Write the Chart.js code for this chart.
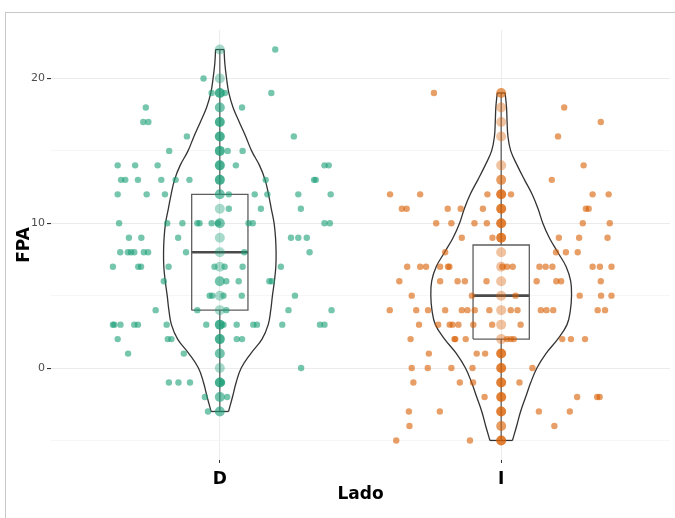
<!DOCTYPE html>
<html>
<head>
<meta charset="utf-8">
<script src="https://cdn.jsdelivr.net/npm/chart.js@4.4.1/dist/chart.umd.min.js"></script>
<style>
  html, body { margin: 0; padding: 0; background: #fff; }
  #wrap { position: relative; width: 675px; height: 518px; overflow: hidden; }
  #frame { position: absolute; left: 5px; top: 12px; width: 720px; height: 600px; border: 1px solid #c8c8c8; }
  canvas { position: absolute; left: 0; top: 0; }
</style>
</head>
<body>
<div id="wrap"><div id="frame"></div><canvas id="chart" width="675" height="518"></canvas></div>
<script>
// categories and axis ticks
const categories = ['D', 'I'];
const yTicks = [-5, 0, 5, 10, 15, 20];
const yTickLabels = ['', '0', '', '10', '', '20'];

// box stats per category (D, I)
const boxMin = [-3, -5];
const boxQ1 = [4, 2];
const boxMedian = [8, 5];
const boxQ3 = [12, 8.5];
const boxMax = [22, 19];

// violin half widths (x units) at each FPA value
const dViolinY = [-3, -2, -1, 0, 1, 2, 3, 4, 5, 6, 7, 8, 9, 10, 11, 12, 13, 14, 15, 16, 17, 18, 19, 20, 21, 22];
const dViolinHalf = [0.031, 0.045, 0.058, 0.076, 0.110, 0.150, 0.172, 0.181, 0.187, 0.194, 0.199, 0.200, 0.198, 0.193, 0.183, 0.173, 0.161, 0.141, 0.113, 0.092, 0.069, 0.047, 0.032, 0.024, 0.018, 0.015];
const iViolinY = [-5, -4, -3, -2, -1, 0, 1, 2, 3, 4, 5, 6, 7, 8, 9, 10, 11, 12, 13, 14, 15, 16, 17, 18, 19];
const iViolinHalf = [0.040, 0.055, 0.069, 0.087, 0.105, 0.127, 0.159, 0.201, 0.234, 0.246, 0.250, 0.247, 0.231, 0.201, 0.171, 0.148, 0.131, 0.110, 0.083, 0.057, 0.034, 0.024, 0.021, 0.019, 0.014];

// jittered observations: FPA level and horizontal offsets at that level
const dJitterLevels = [22, 20, 19, 18, 17, 16, 15, 14, 13, 12, 11, 10, 9, 8, 7, 6, 5, 4, 3, 2, 1, 0, -1, -2, -3];
const dJitterOffsets = [
  [0.197], [-0.058], [-0.029, 0.018, 0.183], [-0.263, 0.079], [-0.272, -0.254],
  [-0.117, 0.263], [-0.180, 0.028, 0.081],
  [-0.363, -0.301, -0.221, 0.057, 0.372, 0.387],
  [-0.351, -0.336, -0.291, -0.208, -0.157, -0.108, 0.163, 0.335, 0.341],
  [-0.363, -0.260, -0.195, 0.032, 0.124, 0.169, 0.279, 0.394],
  [0.032, 0.146, 0.288],
  [-0.358, -0.187, -0.133, -0.080, -0.072, -0.029, -0.007, 0.102, 0.117, 0.372, 0.391],
  [-0.323, -0.279, -0.148, 0.253, 0.279, 0.309],
  [-0.354, -0.327, -0.316, -0.304, -0.270, -0.255, -0.120, 0.087, 0.319],
  [-0.380, -0.290, -0.280, -0.182, -0.019, 0.017, 0.081, 0.217],
  [-0.199, 0.023, 0.067, 0.176, 0.185],
  [-0.036, -0.027, 0.013, 0.078, 0.267],
  [-0.228, -0.080, 0.023, 0.244, 0.397],
  [-0.380, -0.375, -0.353, -0.304, -0.291, -0.189, -0.048, 0.013, 0.060, 0.119, 0.132, 0.222, 0.356, 0.372],
  [-0.363, -0.185, -0.172, 0.060, 0.079],
  [-0.326, -0.128], [0.289], [-0.181, -0.147, -0.106, 0.008], [-0.053, 0.026], [-0.042]
];
const iJitterLevels = [19, 18, 17, 16, 14, 13, 12, 11, 10, 9, 8, 7, 6, 5, 4, 3, 2, 1, 0, -1, -2, -3, -4, -5];
const iJitterOffsets = [
  [-0.239], [0.224], [0.354], [0.202], [0.293], [0.180],
  [-0.395, -0.288, -0.049, 0.035, 0.325, 0.382],
  [-0.353, -0.336, -0.190, -0.144, -0.065, 0.301, 0.311],
  [-0.231, -0.177, -0.095, -0.051, 0.290, 0.386],
  [-0.140, -0.031, 0.205, 0.277, 0.378],
  [-0.199, 0.195, 0.230, 0.272],
  [-0.334, -0.288, -0.267, -0.217, -0.189, -0.184, 0.004, 0.021, 0.041, 0.136, 0.158, 0.182, 0.325, 0.351, 0.392],
  [-0.362, -0.217, -0.155, -0.129, -0.052, 0.126, 0.196, 0.213, 0.354],
  [-0.318, -0.104, 0.051, 0.279, 0.355, 0.392],
  [-0.396, -0.302, -0.260, -0.199, -0.140, -0.120, -0.094, -0.042, 0.034, 0.058, 0.141, 0.161, 0.185, 0.343, 0.369],
  [-0.292, -0.224, -0.183, -0.173, -0.152, -0.099, -0.032, 0.069],
  [-0.322, -0.166, -0.163, -0.126, 0.020, 0.034, 0.045, 0.217, 0.248, 0.298],
  [-0.257, -0.087, -0.057],
  [-0.318, -0.261, -0.177, -0.102, 0.111],
  [-0.312, -0.147, -0.100, 0.065],
  [-0.059, 0.270, 0.341, 0.350],
  [-0.328, -0.218, 0.134, 0.244],
  [-0.326, 0.189],
  [-0.373, -0.111]
];

// un-jittered points on the centre line, with how many overlap at each level
const dCenterY = [22, 20, 19, 18, 17, 16, 15, 14, 13, 12, 11, 10, 9, 8, 7, 6, 5, 4, 3, 2, 1, 0, -1, -2, -3];
const dCenterN = [1, 1, 3, 2, 3, 3, 3, 3, 3, 2, 1, 2, 1, 1, 1, 2, 1, 1, 3, 3, 2, 1, 3, 2, 2];
const iCenterY = [19, 18, 17, 16, 14, 13, 12, 11, 10, 9, 8, 7, 6, 5, 4, 3, 2, 1, 0, -1, -2, -3, -4, -5];
const iCenterN = [2, 1, 1, 1, 1, 2, 3, 3, 3, 3, 1, 1, 1, 1, 1, 1, 1, 3, 3, 3, 3, 3, 2, 3];

const FONT = 'DejaVu Sans, Verdana, sans-serif';
const groupRGB = ['27,158,119', '217,95,2'];
const overlapAlpha = [0, 0.38, 0.62, 0.8];
const BOX_HALF = 0.1;

function jitterPoints(center, levels, offsets) {
  const pts = [];
  levels.forEach((v, i) => offsets[i].forEach(o => pts.push({ x: center + o, y: v })));
  return pts;
}

function lineSet(data, color, width, tension, order) {
  return { data, showLine: true, pointRadius: 0, borderColor: color, borderWidth: width, tension, fill: false, order };
}

function violinSets(center, ys, halves) {
  const n = ys.length - 1;
  const right = ys.map((y, i) => ({ x: center + halves[i], y }));
  const left = ys.map((y, i) => ({ x: center - halves[i], y }));
  const bottom = [{ x: center - halves[0], y: ys[0] }, { x: center + halves[0], y: ys[0] }];
  const top = [{ x: center - halves[n], y: ys[n] }, { x: center + halves[n], y: ys[n] }];
  return [
    lineSet(right, '#333', 1.3, 0.4, 4),
    lineSet(left, '#333', 1.3, 0.4, 4),
    lineSet(bottom, '#333', 1.3, 0, 4),
    lineSet(top, '#333', 1.3, 0, 4)
  ];
}

function boxSets(i) {
  const c = i + 1;
  const rect = [
    { x: c - BOX_HALF, y: boxQ1[i] }, { x: c + BOX_HALF, y: boxQ1[i] },
    { x: c + BOX_HALF, y: boxQ3[i] }, { x: c - BOX_HALF, y: boxQ3[i] },
    { x: c - BOX_HALF, y: boxQ1[i] }
  ];
  return [
    lineSet(rect, '#5e5e5e', 1.3, 0, 3),
    lineSet([{ x: c - BOX_HALF, y: boxMedian[i] }, { x: c + BOX_HALF, y: boxMedian[i] }], '#4a4a4a', 2.6, 0, 3),
    lineSet([{ x: c, y: boxQ3[i] }, { x: c, y: boxMax[i] }], '#5e5e5e', 1.3, 0, 3),
    lineSet([{ x: c, y: boxMin[i] }, { x: c, y: boxQ1[i] }], '#5e5e5e', 1.3, 0, 3)
  ];
}

function centerSet(i, ys, ns) {
  return {
    data: ys.map(y => ({ x: i + 1, y })),
    pointRadius: 5,
    pointBorderWidth: 0,
    backgroundColor: ns.map(n => 'rgba(' + groupRGB[i] + ',' + overlapAlpha[n] + ')'),
    order: 1
  };
}

function jitterSet(i, levels, offsets) {
  return {
    data: jitterPoints(i + 1, levels, offsets),
    pointRadius: 3.2,
    pointBorderWidth: 0,
    backgroundColor: 'rgba(' + groupRGB[i] + ',0.6)',
    order: 0
  };
}

const isMajor = idx => yTickLabels[idx] !== '';

const chart = new Chart(document.getElementById('chart').getContext('2d'), {
  type: 'scatter',
  data: {
    datasets: [
      jitterSet(0, dJitterLevels, dJitterOffsets),
      jitterSet(1, iJitterLevels, iJitterOffsets),
      centerSet(0, dCenterY, dCenterN),
      centerSet(1, iCenterY, iCenterN),
      ...boxSets(0),
      ...boxSets(1),
      ...violinSets(1, dViolinY, dViolinHalf),
      ...violinSets(2, iViolinY, iViolinHalf)
    ]
  },
  options: {
    responsive: false,
    animation: false,
    events: [],
    layout: { padding: { top: 30, right: 3, left: 0, bottom: 0 } },
    plugins: {
      legend: { display: false },
      tooltip: { enabled: false }
    },
    scales: {
      x: {
        type: 'linear',
        min: 0.4,
        max: 2.6,
        afterBuildTicks: s => { s.ticks = categories.map((c, i) => ({ value: i + 1 })); },
        afterFit: s => { s.height = 58; },
        ticks: {
          callback: v => categories[v - 1],
          font: { family: FONT, size: 17, weight: 'bold' },
          color: '#000',
          padding: 6,
          maxRotation: 0,
          autoSkip: false
        },
        grid: { color: '#ececec', lineWidth: 1, tickLength: 3, tickColor: '#333' },
        border: { display: false },
        title: {
          display: true,
          text: 'Lado',
          font: { family: FONT, size: 17, weight: 'bold' },
          color: '#000',
          padding: { top: 0, bottom: 13 }
        }
      },
      y: {
        min: -6.35,
        max: 23.35,
        afterBuildTicks: s => { s.ticks = yTicks.map(v => ({ value: v })); },
        afterFit: s => { s.width = 51; },
        ticks: {
          callback: v => yTickLabels[yTicks.indexOf(v)],
          font: { family: FONT, size: 11 },
          color: '#4d4d4d',
          padding: 2
        },
        grid: {
          color: ctx => isMajor(ctx.index) ? '#ebebeb' : '#f4f4f4',
          lineWidth: ctx => isMajor(ctx.index) ? 1.1 : 0.8,
          tickLength: 4,
          tickColor: ctx => isMajor(ctx.index) ? '#333' : 'rgba(0,0,0,0)'
        },
        border: { display: false },
        title: {
          display: true,
          text: 'FPA',
          font: { family: FONT, size: 17, weight: 'bold' },
          color: '#000',
          padding: { top: 14.8, bottom: 0 }
        }
      }
    }
  }
});
</script>
</body>
</html>
